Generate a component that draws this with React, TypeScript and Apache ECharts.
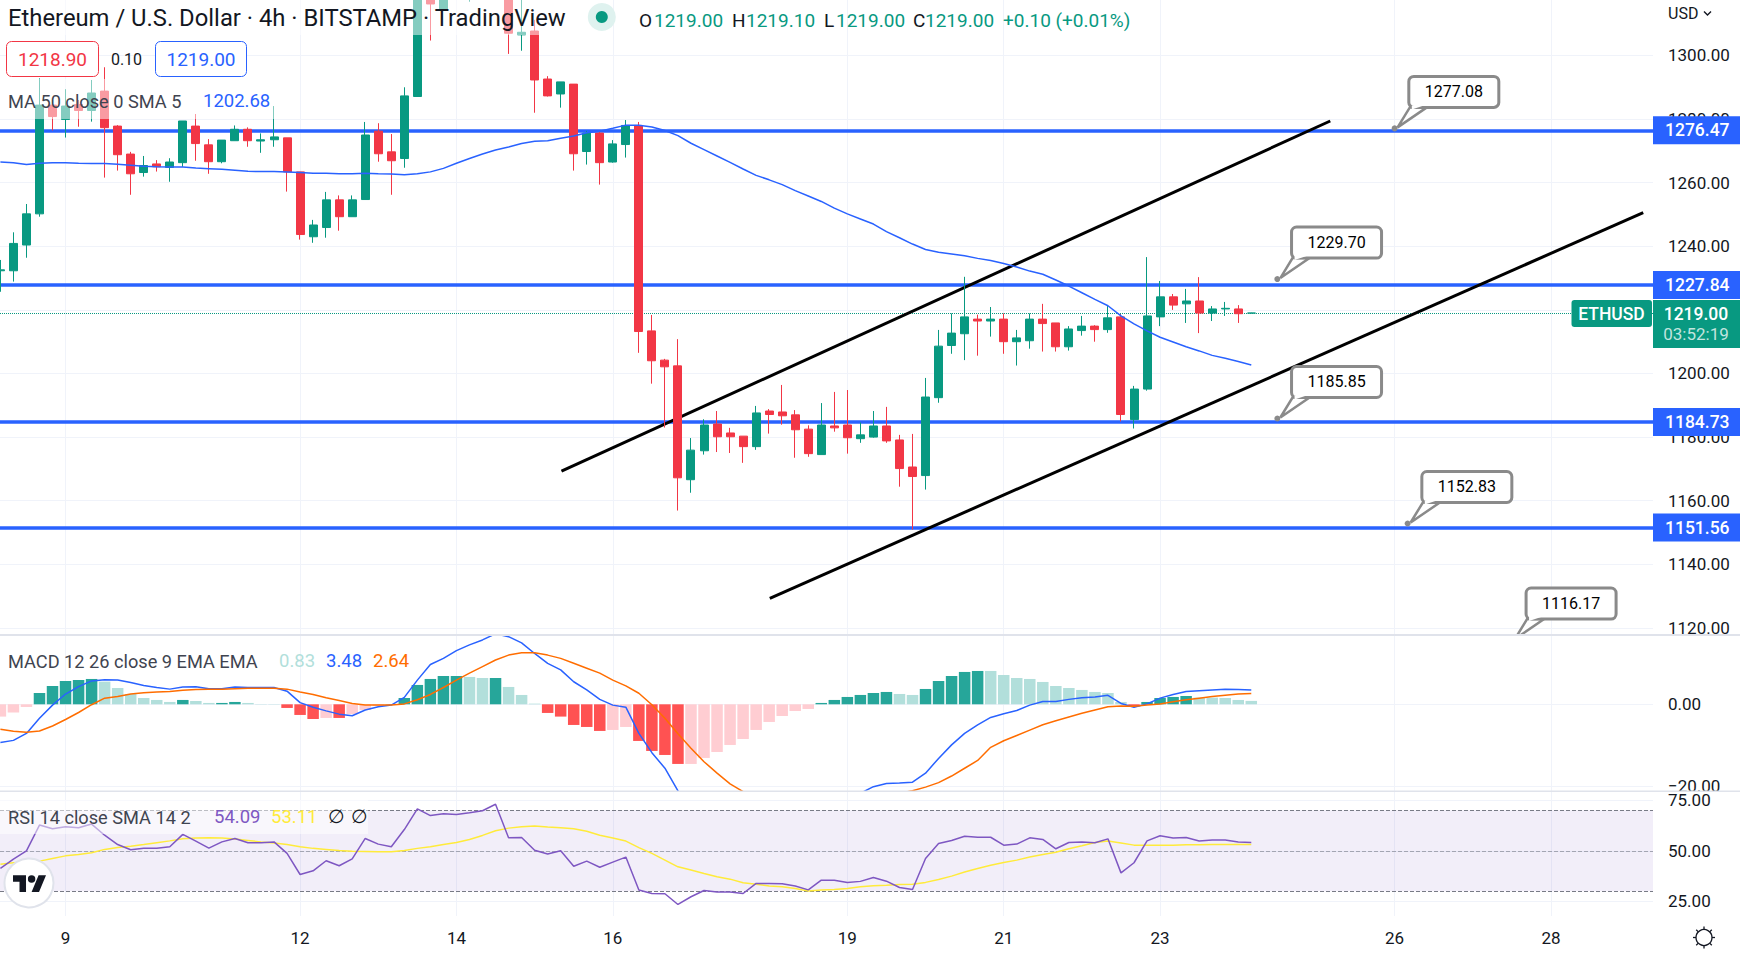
import React, { useEffect, useRef } from "react";
import * as echarts from "echarts";

// [open, close, low, high]
const candles: number[][] = [
  [1232.3,1232.6,1225.7,1235.7],[1232.3,1240.9,1228.9,1244.4],[1240.4,1250.2,1236.4,1253.3],[1250.2,1284.4,1249.3,1292.8],
  [1284.4,1280.8,1276.4,1286],[1279.9,1284.1,1274.2,1289.4],[1284.6,1282.7,1277.6,1286],[1282.7,1288.2,1279.2,1292.3],
  [1288.8,1277.3,1261.6,1296.3],[1277.8,1268.8,1263.8,1278.1],[1269,1262.8,1256.2,1269.7],[1263.2,1265.4,1261.9,1268.4],
  [1265.9,1265,1263.5,1267.1],[1264.8,1266.5,1260.3,1267.7],[1266.3,1279.4,1265,1279.4],[1277.8,1272.3,1266.9,1281.6],
  [1271.9,1266.6,1262.8,1273.7],[1266.6,1273.4,1266.1,1273.4],[1273.2,1276.8,1273.2,1278],[1276.8,1273.2,1271.3,1277.4],
  [1273.1,1273.5,1269.4,1275.5],[1273.5,1274.4,1271.3,1284.1],[1274.1,1263.4,1257.2,1274.1],[1263.4,1243.7,1242.1,1263.4],
  [1243,1246.7,1241.1,1248.3],[1245.9,1254.6,1242.7,1257.1],[1254.6,1249.3,1244.9,1256],[1249.3,1254.6,1249.3,1256],
  [1254.7,1275,1254.7,1279.1],[1276.2,1269.1,1266.6,1278.7],[1269.7,1266.9,1256.2,1275.3],[1267.6,1287.3,1264.7,1290],
  [1287.1,1322,1287,1325],[1322,1316.2,1304.7,1326],[1314.5,1325,1314.5,1328],[1325,1330,1320,1335],
  [1328,1331,1316.9,1335],[1331,1326,1322,1336],[1326,1330,1321,1334],[1325,1307,1300.5,1328],
  [1306.5,1307.3,1301.5,1320],[1307.7,1292.3,1282,1311.2],[1292.6,1287.3,1287.1,1293.5],[1287.9,1291.7,1283.6,1291.7],
  [1291,1269.1,1263.8,1291],[1269.8,1275.6,1265.7,1276.3],[1275.6,1266.3,1259.4,1276],[1266.5,1272.2,1266.3,1273.4],
  [1272,1278,1267.9,1279.7],[1278,1213.2,1206.5,1279.1],[1213.4,1204,1196.8,1218.4],[1204.2,1202.1,1183,1204.6],
  [1202.4,1167.2,1156.9,1210.8],[1166.6,1175.9,1162.5,1179.7],[1175.7,1183.8,1174.5,1185.6],[1184.1,1180.1,1175.3,1188.2],
  [1181.3,1180.1,1175,1182.9],[1180.3,1177,1171.9,1180.3],[1177,1187.6,1176,1189.8],[1188.2,1187.1,1181.1,1188.8],
  [1187.9,1186.7,1183.9,1196.4],[1187,1182.3,1173.5,1188.5],[1182.5,1174.8,1173.8,1183.7],[1174.5,1183.8,1174.5,1190.7],
  [1183.5,1182.9,1181.7,1194.2],[1183.8,1179.8,1174.8,1194.8],[1179.5,1180.7,1178.2,1184.6],[1180,1183.5,1179.8,1188.2],
  [1183.5,1178.8,1178.2,1189.5],[1179.1,1170.1,1164.4,1180.7],[1170.6,1167.6,1150.9,1181],[1167.9,1192.6,1163.5,1198.6],
  [1192.4,1208.6,1190.8,1213.7],[1208.8,1212.7,1206.2,1218.9],[1212.5,1217.8,1204.2,1230.4],[1217.1,1216.5,1205.6,1218.5],
  [1216.5,1217.1,1211.6,1220.9],[1217.1,1210,1206.2,1218.9],[1210,1211.2,1202.5,1213.7],[1210.3,1217.1,1207.8,1218.9],
  [1217.1,1215.7,1206.9,1221.9],[1215.9,1208.4,1206.9,1215.9],[1208.4,1214,1207.2,1214.9],[1213.5,1214.9,1211.9,1218.1],
  [1214.9,1213.8,1210,1215.2],[1213.8,1217.5,1212.8,1221.2],[1217.8,1187.1,1184.9,1218.7],[1185.5,1195.1,1182.7,1196.1],
  [1195.1,1218.1,1194.6,1236.6],[1217.8,1224.1,1214.9,1229.1],[1224.1,1221.5,1220,1225],[1221.9,1222.8,1215.9,1226.6],
  [1222.8,1219,1212.7,1230.3],[1219,1220.3,1216.5,1221.2],[1220.3,1220.5,1218.1,1222.5],[1220.3,1218.8,1215.9,1221.5],
  [1219,1219,1219,1219.1],
];
const ma50 = [
  1266.5,1266.3,1265.7,1266.1,1266.3,1266.3,1266.1,1266,1266,1265.8,1265.5,1265.2,1265,1264.9,1264.9,1264.6,1264.4,1264.2,1263.9,1263.6,
  1263.5,1263.5,1263.4,1263.2,1263,1263,1262.8,1262.8,1263,1262.8,1262.7,1262.5,1262.8,1263.4,1264.5,1266.1,1267.6,1269,1270.3,1271.2,
  1272.3,1273,1273.2,1274,1274.7,1275.7,1276.2,1277.1,1278.1,1278.1,1277.5,1276.4,1274.8,1272.4,1270.4,1268.4,1266.4,1264.3,1262.3,1260.9,
  1259.4,1257.5,1255.8,1254.1,1252,1250.2,1248.6,1247,1244.6,1242.7,1240.7,1239,1238.1,1237.6,1237,1236.2,1235.5,1234.6,1233.5,1232.2,
  1231.2,1229.4,1227.5,1225.4,1223.3,1221.3,1218.1,1215.6,1213.4,1211.4,1209.9,1208.4,1207.1,1205.7,1204.8,1203.8,1202.68,
];
const macdHist = [
  -3,-2.03,-0.65,2.76,4.47,5.69,5.93,6.18,5.53,3.98,2.52,1.54,1.06,0.57,1.06,0.81,0.33,0.33,0.57,0.33,
  0.08,0.08,-0.89,-2.6,-3.58,-3.33,-3.33,-2.36,-1.38,-0.4,0.08,1.54,4.72,6.18,6.91,6.91,6.67,6.42,6.42,4.23,
  2.28,0.16,-2.11,-3,-5.04,-5.53,-6.5,-6.26,-5.53,-8.94,-11.38,-12.36,-14.55,-14.55,-13.09,-11.63,-9.92,-8.46,-6.26,-4.31,
  -2.85,-1.63,-1.14,0.33,1.06,1.79,2.28,2.76,3.01,2.52,2.28,3.74,5.69,6.91,7.89,8.13,8.13,7.15,6.42,6.18,
  5.45,4.47,3.98,3.5,3.01,2.76,0.57,-0.49,0.57,1.54,1.79,2.03,1.63,1.63,1.54,1.06,0.83,
];
const histDarkBars = [3,4,5,6,7,14,17,18,22,23,24,26,30,31,32,33,34,35,38,42,43,44,45,46,49,50,51,52,63,64,65,66,67,68,71,72,73,74,75,87,88,89,90,91];
const macdLine = [
  -9.3,-8.8,-7.1,-3.4,-0.2,2.5,4.3,5.7,6,5.9,5.3,4.6,4.1,3.7,4.2,4.3,3.8,3.8,4.2,4.1,
  4.1,4.1,3.2,0.4,-0.7,-1.6,-2.4,-2.8,-1.4,-0.6,-0.2,1.7,5.9,9.7,11.2,13.1,14.5,15.7,17.2,16.5,
  15,12.4,10,8.4,5.5,3.5,1.2,-0.2,-0.7,-7.1,-11.8,-15.6,-21.1,-27.4,-32.3,-37.2,-40.4,-42,-42.8,-42.4,
  -41.2,-38.8,-35.5,-31.5,-27.4,-24.1,-21.7,-20.1,-19.3,-19.2,-19,-16.8,-13.2,-9.9,-7.1,-5,-3.2,-2.3,-1.5,-0.2,
  0.7,0.7,1.2,1.6,1.8,2.2,0.2,-0.7,0.1,1.5,2.4,3.1,3.3,3.5,3.7,3.6,3.48,
];
const macdSignal = [
  -6.1,-6.6,-6.8,-6.5,-5.3,-3.7,-2,-0.1,1.5,1.9,2.5,2.8,3,3.1,3.4,3.6,3.7,3.7,3.8,3.9,
  3.9,3.9,3.7,3,2.4,1.6,0.9,0.2,-0.2,-0.2,-0.2,0.1,1.1,2.4,4.1,5.9,7.6,9.2,10.8,12,
  12.6,12.6,12,11.2,10,8.8,7.6,5.9,4.5,2.7,-0.1,-3.4,-7.2,-10.7,-14,-16.8,-19.4,-21.3,-23.3,-25,
  -26.2,-27,-27.4,-27.4,-27,-26.2,-25,-23.7,-22.5,-21.7,-21.1,-20.2,-19.1,-17.5,-15.6,-13.7,-10.5,-8.9,-7.6,-6.3,
  -5,-4,-3.1,-2.2,-1.4,-0.6,-0.4,-0.5,-0.2,0.1,0.6,1.1,1.5,1.9,2.2,2.5,2.64,
];
const rsi = [
  41.3,45.9,50,62.7,60.9,61.9,61.4,63.2,57.7,53.1,50.5,51.3,51.3,52,58.1,54.8,51.3,54.4,56.1,54,
  54,54.4,48.7,38.3,40.1,45.1,42.6,46,56.1,53.3,52,60.5,70.7,67.4,68.3,67.9,68.8,69.8,73,56.4,
  56.6,50.3,48.4,50,42.4,44.9,41.9,44.4,46.9,30.6,28.9,28.8,23.5,27.3,30.4,29.6,29.6,28.9,33.9,33.9,
  33.7,32.6,30.7,35.5,35.5,34.4,34.9,36.8,35,31.9,30.9,46.2,53.6,55.1,57.2,56.7,56.7,52.8,53.3,56.4,
  55.6,51,54.1,54.4,54,55.9,39.1,44.1,54.9,57.4,56.3,56.6,54.8,55.3,55.3,54.4,54.09,
];
const rsiSma = [
  43.4,44.1,44.4,44.9,46.2,47.5,48.2,49,50.7,51.6,52.3,53.1,54,54.9,55.9,56.3,56.4,56.3,55.8,55.1,
  54.4,53.8,53.1,52,51.2,50.7,50.2,49.8,49.7,49.5,49.5,50.2,51.2,52,53.1,54.1,55.6,57.6,59.9,61.2,
  61.9,62.3,61.7,61.4,60.9,59.7,57.7,56.3,54.8,51.6,48.7,45.4,42.1,40.5,38.8,37.2,36,34.2,33.5,32.6,
  32.2,31.4,30.2,30.6,30.9,31.4,32.2,32.7,33,33.4,33.5,34.4,35.8,37.5,39.5,41.3,42.9,44.2,45.4,46.9,
  48.2,49.3,51,52.5,54.1,54.8,53.8,52.8,52.8,52.8,52.8,53,53,53.1,53.1,53.1,53.11,
];
const levels = [1276.47, 1227.84, 1184.73, 1151.56];
const channelUpper = [[43.06, 1169.3], [102.06, 1279.4]];
const channelLower = [[59.05, 1129.3], [126.08, 1250.6]];
const callouts = [[107, 1277.08], [98, 1229.7], [98, 1185.85], [108, 1152.83], [116, 1116.17]];
const lastPrice = 1219;
const tickBars = [5, 23, 35, 47, 65, 77, 89, 107, 119];
const tickDays = ["9", "12", "14", "16", "19", "21", "23", "26", "28"];
const priceGrid = [1120,1140,1160,1180,1200,1220,1240,1260,1280,1300];
const priceLabels = [1120,1140,1160,1180,1200,1240,1260,1280,1300];
const macdTicks = [0, -20];
const rsiTicks = [25, 50, 75];

const FF = "Roboto, sans-serif";
const GREEN = "#089981", RED = "#f23645", BLUE = "#2962ff", INK = "#131722", GRID = "#f0f3fa", SEP = "#e0e3eb";

const xy = (a: number[]) => a.map((v, i) => [i, v]);

function App() {
  const ref = useRef<HTMLDivElement>(null);
  useEffect(() => {
    document.body.style.margin = "0";
    echarts.graphic.registerShape("tvlogo", echarts.graphic.extendPath("M14 22H7V11H0V4h14v18zM28 22h-8l7.5-18h8L28 22zM24 8a4 4 0 1 1-8 0a4 4 0 1 1 8 0z", {}));
    const chart = echarts.init(ref.current!, null, { renderer: "svg" });

    const xAxisBase = (gridIndex: number, showLabel: boolean) => ({
      type: "value", gridIndex, min: -0.03, max: 126.83,
      axisLine: { show: false },
      axisTick: { show: false, customValues: tickBars },
      splitLine: { show: true, lineStyle: { color: GRID, width: 1 } },
      axisLabel: {
        show: showLabel, customValues: tickBars, margin: 13, color: INK, fontFamily: FF, fontSize: 17,
        formatter: (v: number) => tickDays[tickBars.indexOf(v)] ?? "",
      },
    });
    const yAxisBase = (gridIndex: number, min: number, max: number, ticks: number[], labels: number[]) => ({
      type: "value", gridIndex, min, max, position: "right", scale: true,
      axisLine: { show: false },
      axisTick: { show: false, customValues: ticks },
      splitLine: { show: true, lineStyle: { color: GRID, width: 1 } },
      axisLabel: {
        customValues: labels, margin: 15, color: INK, fontFamily: FF, fontSize: 17, padding: [2, 0, 0, 0],
        formatter: (v: number) => v.toFixed(2).replace("-", "\u2212"),
      },
    });

    const txt = (text: string, x: number, y: number, fill: string, size: number, extra: any = {}) => ({
      type: "text", z: 110,
      style: { text, x, y, fill, fontFamily: FF, fontSize: size, verticalAlign: "middle", align: "left", ...extra },
    });
    const box = (x: number, y: number, width: number, height: number, fill: string, extra: any = {}, r = 0) => ({
      type: "rect", z: 105, shape: { x, y, width, height, r }, style: { fill, ...extra },
    });

    const sunRays = [0, 45, 90, 135, 180, 225, 270, 315].map((deg) => {
      const a = (deg * Math.PI) / 180;
      return {
        type: "line", z: 110,
        shape: { x1: 1704 + 8 * Math.cos(a), y1: 937.5 + 8 * Math.sin(a), x2: 1704 + 11 * Math.cos(a), y2: 937.5 + 11 * Math.sin(a) },
        style: { stroke: INK, lineWidth: 1.3 },
      };
    });

    const elements: any[] = [
      // pane separators
      { type: "rect", z: 100, shape: { x: 0, y: 634, width: 1740, height: 2 }, style: { fill: SEP } },
      { type: "rect", z: 100, shape: { x: 0, y: 790.5, width: 1740, height: 1.5 }, style: { fill: SEP } },
      // legend veils
      box(0, 0, 575, 35, "rgba(255,255,255,0.5)"),
      box(0, 79, 280, 40, "rgba(255,255,255,0.5)"),
      box(0, 800, 368, 34, "rgba(255,255,255,0.5)"),
      // header
      txt("Ethereum / U.S. Dollar · 4h · BITSTAMP · TradingView", 8, 18, INK, 23.8),
      { type: "circle", z: 106, shape: { cx: 601.8, cy: 17, r: 14 }, style: { fill: "#dff2ef" } },
      { type: "circle", z: 107, shape: { cx: 601.8, cy: 17, r: 6 }, style: { fill: GREEN } },
      txt("O", 639, 20, INK, 19), txt("1219.00", 654, 20, GREEN, 19),
      txt("H", 732, 20, INK, 19), txt("1219.10", 746, 20, GREEN, 19),
      txt("L", 824, 20, INK, 19), txt("1219.00", 836, 20, GREEN, 19),
      txt("C", 913, 20, INK, 19), txt("1219.00", 925, 20, GREEN, 19),
      txt("+0.10 (+0.01%)", 1003, 20, GREEN, 19),
      // bid / ask
      box(6.5, 41.5, 92, 35, "#ffffff", { stroke: RED, lineWidth: 1 }, 5),
      txt("1218.90", 52.5, 59.5, RED, 19, { align: "center" }),
      txt("0.10", 126.5, 59.5, INK, 16, { align: "center" }),
      box(155.5, 41.5, 91, 35, "#ffffff", { stroke: BLUE, lineWidth: 1 }, 5),
      txt("1219.00", 201, 59.5, BLUE, 19, { align: "center" }),
      // study legends
      txt("MA 50 close 0 SMA 5", 8, 101, "#3f4450", 18.2),
      txt("1202.68", 203, 101, BLUE, 18.5),
      txt("MACD 12 26 close 9 EMA EMA", 8, 661, "#3f4450", 18.2),
      txt("0.83", 279, 661, "#b2dfdb", 18.5),
      txt("3.48", 326, 661, BLUE, 18.5),
      txt("2.64", 373, 661, "#ff6d00", 18.5),
      txt("RSI 14 close SMA 14 2", 8, 817, "#3f4450", 18.2),
      txt("54.09", 214, 817, "#7e57c2", 18.5),
      txt("53.11", 271, 817, "#ffeb3b", 18.5),
      txt("\u2205", 328, 817, INK, 18.5),
      txt("\u2205", 351, 817, INK, 18.5),
      // USD selector
      txt("USD", 1668, 13, INK, 16),
      { type: "polyline", z: 110, shape: { points: [[1704, 11.5], [1707.5, 15], [1711, 11.5]] }, style: { stroke: INK, lineWidth: 1.4, fill: "none" } },
      // last price tags
      box(1571.5, 300, 80.5, 27, GREEN, {}, 3),
      txt("ETHUSD", 1611.5, 314, "#ffffff", 17.5, { align: "center", fontWeight: 500 }),
      box(1653, 300, 87, 48, GREEN),
      txt("1219.00", 1696, 314, "#ffffff", 17.5, { align: "center", fontWeight: 500 }),
      txt("03:52:19", 1696, 334, "rgba(255,255,255,0.75)", 17, { align: "center" }),
      // logo
      { type: "circle", z: 106, shape: { cx: 29, cy: 883, r: 24.5 }, style: { fill: "#ffffff", stroke: SEP, lineWidth: 2 } },
      { type: "tvlogo", z: 107, x: 13, y: 871.5, scaleX: 0.93, scaleY: 0.93, style: { fill: INK } },
      // settings sun
      { type: "circle", z: 110, shape: { cx: 1704, cy: 937.5, r: 8 }, style: { fill: "none", stroke: INK, lineWidth: 1.3 } },
      ...sunRays,
    ];

    const renderCallout = (_: any, api: any) => {
      const [ax, ay] = api.coord([api.value(0), api.value(1)]);
      const left = ax + 14.2, top = ay - 52, w = 90, h = 31;
      const stroke = "#8a8a8a";
      return {
        type: "group",
        children: [
          { type: "polygon", shape: { points: [[left + 1, top + h], [left + 18, top + h], [ax + 3, ay - 1]] }, style: { fill: "#fff", stroke, lineWidth: 2.5 } },
          { type: "rect", shape: { x: left, y: top, width: w, height: h, r: 5 }, style: { fill: "#fff", stroke, lineWidth: 3 } },
          { type: "polygon", shape: { points: [[left + 3, top + h - 2], [left + 15, top + h - 2], [left + 3, top + h + 2]] }, style: { fill: "#fff" } },
          { type: "circle", shape: { cx: ax, cy: ay, r: 3 }, style: { fill: stroke } },
          { type: "text", style: { text: api.value(1).toFixed(2), x: left + w / 2, y: top + h / 2, fill: "#000", fontFamily: FF, fontSize: 16, align: "center", verticalAlign: "middle" } },
        ],
      };
    };

    const levelLine = (v: number) => ({
      yAxis: v,
      lineStyle: { color: BLUE, width: 3.5, type: "solid" },
      label: {
        show: true, position: "end", distance: 0, formatter: v.toFixed(2), color: "#fff", fontFamily: FF, fontSize: 17.5, fontWeight: 500,
        backgroundColor: BLUE, padding: [6, 12, 4, 12],
      },
    });

    chart.setOption({
      animation: false,
      backgroundColor: "#ffffff",
      grid: [
        { left: 0, top: 0, width: 1653, height: 634 },
        { left: 0, top: 636, width: 1653, height: 155 },
        { left: 0, top: 792, width: 1653, height: 124 },
      ],
      xAxis: [xAxisBase(0, false), xAxisBase(1, false), xAxisBase(2, true)],
      yAxis: [
        yAxisBase(0, 1118.08, 1317.45, priceGrid, priceLabels),
        yAxisBase(1, -21.15, 16.66, macdTicks, macdTicks),
        yAxisBase(2, 17.8, 79.04, rsiTicks, rsiTicks),
      ],
      series: [
        {
          type: "line", name: "Channel upper", data: channelUpper, xAxisIndex: 0, yAxisIndex: 0, z: 1, symbol: "none",
          lineStyle: { color: "#000", width: 3 },
          markLine: {
            z: 1, silent: true, symbol: "none", animation: false,
            data: [
              ...levels.map(levelLine),
              { yAxis: lastPrice, lineStyle: { color: GREEN, width: 1, type: "dotted" }, label: { show: false } },
            ],
          },
        },
        { type: "line", name: "Channel lower", data: channelLower, xAxisIndex: 0, yAxisIndex: 0, z: 1, symbol: "none", lineStyle: { color: "#000", width: 3 } },
        {
          type: "candlestick", name: "ETHUSD", data: candles.map((c, i) => [i, ...c]), xAxisIndex: 0, yAxisIndex: 0, z: 3, barWidth: 8.5,
          encode: { x: 0, y: [1, 2, 3, 4] },
          itemStyle: { color: GREEN, color0: RED, borderColor: GREEN, borderColor0: RED, borderWidth: 1 },
        },
        { type: "line", name: "MA 50", data: xy(ma50), xAxisIndex: 0, yAxisIndex: 0, z: 4, symbol: "none", lineStyle: { color: BLUE, width: 1.5 } },
        {
          type: "custom", name: "Price notes", data: callouts, xAxisIndex: 0, yAxisIndex: 0, z: 6, clip: true,
          encode: { x: 0, y: 1 }, renderItem: renderCallout,
        },
        {
          type: "bar", name: "Histogram", xAxisIndex: 1, yAxisIndex: 1, barWidth: 11.5, z: 2,
          data: macdHist.map((v, i) => {
            const dark = histDarkBars.includes(i);
            return { value: [i, v], itemStyle: { color: v >= 0 ? (dark ? "#26a69a" : "#b2dfdb") : (dark ? "#ff5252" : "#ffcdd2") } };
          }),
        },
        { type: "line", name: "MACD", data: xy(macdLine), xAxisIndex: 1, yAxisIndex: 1, z: 3, symbol: "none", lineStyle: { color: BLUE, width: 1.5 } },
        { type: "line", name: "Signal", data: xy(macdSignal), xAxisIndex: 1, yAxisIndex: 1, z: 4, symbol: "none", lineStyle: { color: "#ff6d00", width: 1.5 } },
        {
          type: "line", name: "RSI", data: xy(rsi), xAxisIndex: 2, yAxisIndex: 2, z: 4, symbol: "none", lineStyle: { color: "#7e57c2", width: 1.5 },
          markArea: { silent: true, z: 1, itemStyle: { color: "rgba(126,87,194,0.1)" }, data: [[{ yAxis: 70 }, { yAxis: 30 }]] },
          markLine: {
            silent: true, z: 1, symbol: "none", label: { show: false }, animation: false,
            data: [
              { yAxis: 70, lineStyle: { color: "#787b86", type: "dashed", width: 1 } },
              { yAxis: 50, lineStyle: { color: "rgba(120,123,134,0.6)", type: "dashed", width: 1 } },
              { yAxis: 30, lineStyle: { color: "#787b86", type: "dashed", width: 1 } },
            ],
          },
        },
        { type: "line", name: "RSI SMA", data: xy(rsiSma), xAxisIndex: 2, yAxisIndex: 2, z: 3, symbol: "none", lineStyle: { color: "#ffeb3b", width: 1.5 } },
      ],
      graphic: { z: 100, elements },
    });
    return () => chart.dispose();
  }, []);
  return <div ref={ref} style={{ position: "absolute", left: 0, top: 0, width: 1740, height: 955 }} />;
}

export default App;
